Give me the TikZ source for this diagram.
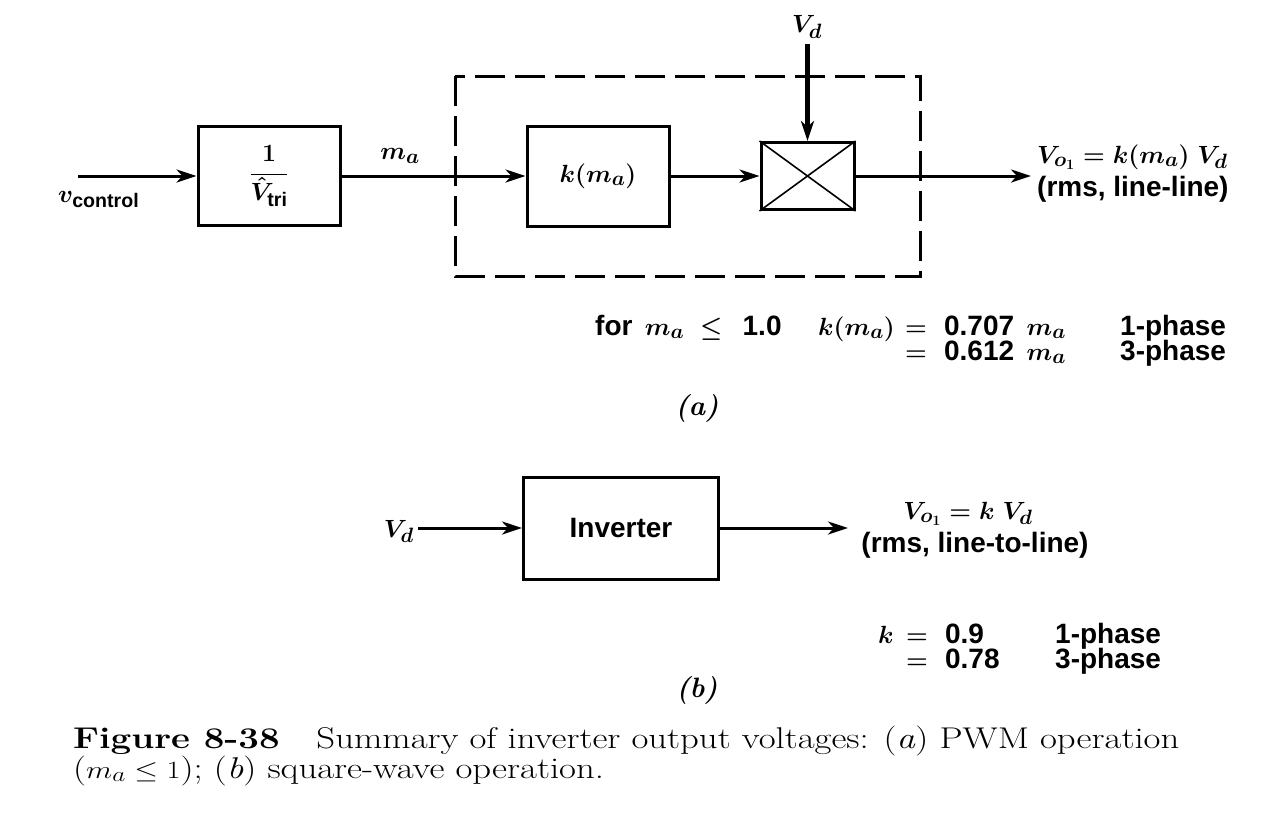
\documentclass[tikz,border=0pt]{standalone}
\usepackage{amsmath}
\usepackage{graphicx}
\usepackage{fontspec}
\setsansfont{Liberation Sans}
\usetikzlibrary{arrows.meta}
\begin{document}
\begin{tikzpicture}[x=1pt,y=-1pt,
  lab/.style={font=\fontsize{28}{30}\selectfont\sffamily\bfseries\boldmath, inner sep=0pt},
  itl/.style={font=\fontsize{28}{30}\selectfont\bfseries\itshape, inner sep=0pt},
  blk/.style={draw, line width=3pt, inner sep=0pt},
  sig/.style={line width=3pt, -{Stealth[length=20pt,width=13pt,inset=6pt]}},
  dashbox/.style={draw, line width=3pt, dash pattern=on 30pt off 10pt},
  captxt/.style={font=\fontsize{30}{34}\selectfont, inner sep=0pt}]
\useasboundingbox (0,0) rectangle (1288,812);

% ---------- (a) ----------
\coordinate (cin) at (78,176);
\node[blk, lab, minimum width=142pt, minimum height=99pt] (gain) at (269,176) {$\dfrac{\mathbf{1}}{\hat{V}_{\textsf{tri}}}$};
\node[blk, lab, minimum width=142pt, minimum height=100pt] (kbox) at (598,176) {$k(m_a)$};
\node[blk, minimum width=93pt, minimum height=67pt] (mult) at (807.5,176) {};
\draw[line width=1.6pt] (mult.north west) -- (mult.south east) (mult.north east) -- (mult.south west);
\draw[dashbox] (455,76) rectangle (920,276);

\draw[sig] (cin) -- (gain.west);
\draw[sig] (gain.east) -- (kbox.west);
\draw[sig] (kbox.east) -- (mult.west);
\coordinate (vdst) at (807.5,44);
\draw[sig, line width=4.5pt] (vdst) -- (mult.north);
\coordinate (aout) at (1031,176);
\draw[sig] (mult.east) -- (aout);

\node[lab, anchor=base west] (vctl) at (58,202) {$v_{\textsf{control}}$};
\node[lab] (ma) at (400,156) {$m_a$};
\node[lab] (vdtop) at (807,27) {$V_d$};
\node[lab, anchor=base west] (vo) at (1037,163) {$V_{o_1} = k(m_a)\;V_d$};
\node[lab, anchor=base west] (rms) at (1037,196) {(rms, line-line)};

\node[lab, anchor=base west] (cond) at (595,335) {for\, $m_a\; \leq$\;\, 1.0};
\node[lab, anchor=base east] (kof) at (895,335) {$k(m_a)$};
\node[lab, anchor=base west] (k1) at (905,335) {$=$\,\, 0.707\, $m_a$};
\node[lab, anchor=base west] (k2) at (905,360) {$=$\,\, 0.612\, $m_a$};
\node[lab, anchor=base west] (ph1) at (1120,335) {1-phase};
\node[lab, anchor=base west] (ph3) at (1120,360) {3-phase};
\node[itl] (la) at (697,408) {(a)};

% ---------- (b) ----------
\node[blk, lab, minimum width=195pt, minimum height=102pt] (inv) at (621,528) {Inverter};
\node[lab, anchor=base east] (vdb) at (414,537) {$V_d$};
\coordinate (bin) at (418,528);
\coordinate (bout) at (848,528);
\draw[sig] (bin) -- (inv.west);
\draw[sig] (inv.east) -- (bout);
\node[lab, anchor=base] (vob) at (968,519) {$V_{o_1} = k\;V_d$};
\node[lab, anchor=base] (rmsb) at (975,552) {(rms, line-to-line)};

\node[lab, anchor=base west] (kb) at (878,643) {$k$};
\node[lab, anchor=base west] (kb1) at (906,643) {$=$\,\, 0.9};
\node[lab, anchor=base west] (kb2) at (906,668) {$=$\,\, 0.78};
\node[lab, anchor=base west] (pb1) at (1055,643) {1-phase};
\node[lab, anchor=base west] (pb3) at (1055,668) {3-phase};
\node[itl] (lb) at (697,690) {(b)};

% ---------- caption ----------
\node[captxt, anchor=base west] (cap1) at (73,748) {\scalebox{1.225}[1]{\textbf{Figure 8-38}\quad Summary of inverter output voltages: (\textit{a}) PWM operation}};
\node[captxt, anchor=base west] (cap2) at (73,778) {\scalebox{1.225}[1]{($m_a \leq 1$); (\textit{b}) square-wave operation.}};
\end{tikzpicture}
\end{document}
